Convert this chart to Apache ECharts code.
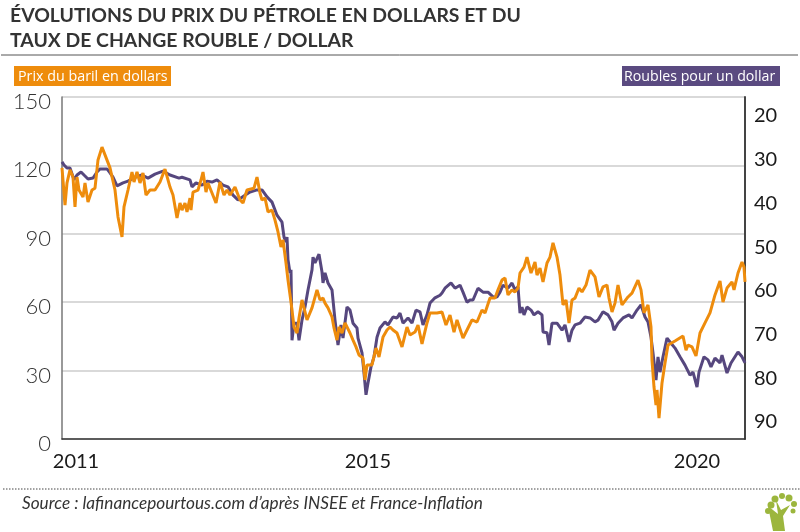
<!DOCTYPE html>
<html><head><meta charset="utf-8">
<script src="https://cdn.jsdelivr.net/npm/echarts@6/dist/echarts.min.js"></script>
<style>html,body{margin:0;padding:0;background:#fff}#c{width:800px;height:532px}</style>
</head><body><div id="c"></div>
<script>
const titleLines = ["ÉVOLUTIONS DU PRIX DU PÉTROLE EN DOLLARS ET DU", "TAUX DE CHANGE ROUBLE / DOLLAR"];
const oilName = "Prix du baril en dollars";
const rubName = "Roubles pour un dollar";
const sourceText = "Source : lafinancepourtous.com d’après INSEE et France-Inflation";
const leftTicks = [0, 30, 60, 90, 120, 150];
const rightTicks = [20, 30, 40, 50, 60, 70, 80, 90];
const xTickPeriods = [14, 306, 635];
const xTickLabels = ["2011", "2015", "2020"];
const oilPeriods = [0,3,5,8,11,13,15,17,21,23,26,30,33,36,40,43,48,53,56,60,62,66,70,72,75,78,81,84,88,93,98,103,108,111,115,118,120,123,125,128,129,131,136,139,141,144,146,150,154,158,162,165,168,173,178,181,185,192,195,198,200,203,206,210,213,216,219,221,224,226,229,232,235,237,240,242,245,250,255,258,261,263,266,270,272,275,277,280,283,288,291,294,297,301,303,305,310,314,317,321,325,328,331,335,340,345,348,353,356,360,365,368,375,380,384,388,392,395,401,406,410,415,420,423,428,433,436,440,443,446,450,453,456,458,462,465,469,473,475,478,481,485,488,491,495,498,501,504,507,510,513,517,520,524,528,533,537,541,545,547,550,553,556,560,566,570,576,579,582,586,589,590,592,594,595,597,600,603,606,613,621,624,626,630,634,638,643,648,653,658,661,665,667,670,672,676,680,682,683];
const oilPrice = [118.9,102.6,112.3,118,114.9,101.8,114.9,109.2,106.1,112.3,103.9,109.2,110,122.4,128,124.6,118.9,109.2,97.4,88.6,101.8,109.2,117.1,112.7,117.1,112.3,116.7,107,109.2,109.2,112.7,118.4,110.5,107,96.9,103.5,100.4,103.5,99.6,105.7,100.4,108.3,109.2,113.6,117.1,108.3,112.3,107.9,103.5,112.7,107,109.2,107,110.5,104.8,103.5,109.2,110,114.9,107.9,104.8,105.7,99.6,100.4,96,90.8,84.2,87.3,77.2,69.7,60.1,49.1,46.5,53.1,61,61,52.2,57.5,65.4,61,61.8,59.6,57.5,53.5,48.7,43.4,49.1,46.5,50.9,46.5,43.4,40.4,36.8,35.5,25.9,32.5,32.5,39.9,36,44.7,47.8,49.1,47.8,46.5,40.4,49.1,45.6,46.9,50,41.7,50.9,55.3,55.3,55.7,50,54.4,46.9,52.2,44.3,48.7,52.2,51.3,56.6,55.3,61.8,61.8,65.4,69.7,70.6,63.2,65.4,64.5,66.2,72.8,75.4,79.8,72.8,77.6,71.9,75,68.9,77.2,79.8,86,79.8,71.9,58.8,61,50.9,61,61.8,66.2,64.5,67.5,74.1,71.1,62.3,66.7,67.5,61.8,55.7,59.6,67.5,58.8,62.3,64,69.7,65.4,55.3,58.8,49.1,34.6,22.8,14.9,21.5,9.2,24.6,33.3,41.2,43,45.2,39,41.2,40.4,36.4,46.5,50.9,55.3,63.2,69.3,60.1,66.2,65.4,68.9,65.4,72.8,77.6,75.4,68.9];
const rubPeriods = [0,2,5,8,12,15,19,22,26,31,35,38,45,48,51,55,61,66,73,80,86,93,101,108,117,120,128,130,134,140,145,150,155,161,166,171,176,183,188,195,200,205,210,215,220,222,224,225,226,228,229,230,232,235,237,240,243,246,250,251,253,257,260,261,263,266,270,273,276,279,281,285,288,291,295,296,300,302,304,306,309,312,315,318,323,326,331,335,338,341,346,350,354,358,361,365,368,373,378,380,383,389,393,398,401,405,408,411,416,421,426,431,435,438,441,446,450,453,456,458,460,462,465,469,472,476,480,481,485,487,490,495,500,503,507,510,513,518,523,528,533,536,541,546,550,552,556,561,567,570,575,579,583,586,589,591,594,596,598,601,605,608,613,618,623,628,631,635,637,642,646,649,653,658,660,665,669,676,680,683];
const rubRate = [30.5,31.2,31.9,31.9,34.6,33.5,32.8,33.5,34.4,34.2,32.8,32.1,32.1,33,34,36,35.3,34.9,34,33.5,34.2,33.3,32.6,33.5,34.2,34,34.6,36.2,35.3,35.8,34.9,35.1,34.6,35.8,36.2,38.1,39.2,38.1,37.4,36.9,36.9,38.5,39.7,42.7,44.3,47.7,48.8,47.7,52.9,55.9,55.2,71.3,67.4,67.4,71.3,66.7,63.7,59.8,55.2,52.3,53.6,51.6,55.7,58.2,55.9,58.2,59.8,66.7,72.4,67.8,70.8,63.7,64.4,67.4,68.5,70.8,74.2,78.8,83.8,81.1,77.4,75.1,70.6,68.5,67.1,67.8,66,66.2,65.1,67.4,66.2,67.4,64.4,64.8,67.8,65.5,62.8,61.6,61,60.5,59.4,58.2,59.4,58.7,60.3,62.6,62.1,62.1,59.4,60.3,60.3,61.4,61.4,60.3,58.7,59.4,58.2,59.8,59.1,65.1,63.7,65.5,63.7,64.4,65.5,64.8,65.5,69.4,69.6,72.4,67.4,67.4,69,67.8,71.7,69,67.8,67.4,66,66.2,67.1,66.7,64.8,65.5,67.1,69,67.4,66.2,65.5,66.2,64.4,63.2,66,67.1,70.6,74.2,80.4,75.1,78.6,75.1,70.8,71.7,73.1,75.1,77,79.3,78.6,82,78.6,75.1,75.8,77.4,75.4,76.5,74.7,78.8,76.5,74,75.1,76.5];

const pair = (xs, ys) => xs.map((x, i) => [x, ys[i]]);
const chart = echarts.init(document.getElementById('c'), null, {renderer: 'canvas'});
const treeGreen = '#9cb63d';
const leaf = (cx, cy, r) => ({type: 'circle', shape: {cx, cy, r}, style: {fill: treeGreen}});
chart.setOption({
  animation: false,
  backgroundColor: '#fff',
  textStyle: {fontFamily: 'Lato'},
  grid: {left: 62, right: 55, top: 97, height: 342, containLabel: false},
  xAxis: {
    type: 'value', min: 0, max: 683, splitLine: {show: false},
    axisLine: {show: true, onZero: false, lineStyle: {color: '#333', width: 1.5}},
    axisTick: {show: false},
    axisLabel: {
      customValues: xTickPeriods, margin: 13, fontSize: 20, color: '#1a1a1a', fontFamily: 'Lato',
      hideOverlap: false, showMinLabel: true, showMaxLabel: true,
      formatter: v => xTickLabels[xTickPeriods.indexOf(v)] || ''
    }
  },
  yAxis: [{
    type: 'value', min: 0, max: 150, interval: 30,
    axisLine: {show: true, lineStyle: {color: '#777', width: 1.5}},
    axisTick: {show: false},
    splitLine: {show: true, lineStyle: {color: '#cccccc', width: 1.5}},
    axisLabel: {margin: 11, fontSize: 22, color: '#333', fontWeight: 300, fontFamily: 'Lato', verticalAlign: 'top', verticalAlignMinLabel: 'top', verticalAlignMaxLabel: 'top', lineHeight: 10, customValues: leftTicks}
  }, {
    type: 'value', min: 15.65, max: 93.9, inverse: true, position: 'right',
    axisLine: {show: true, onZero: false, lineStyle: {color: '#444', width: 2}},
    axisTick: {show: false}, splitLine: {show: false},
    axisLabel: {customValues: rightTicks, margin: 9, fontSize: 20, color: '#1a1a1a', fontFamily: 'Lato', hideOverlap: false}
  }],
  series: [{
    name: rubName, type: 'line', yAxisIndex: 1, showSymbol: false, symbol: 'none',
    data: pair(rubPeriods, rubRate), lineStyle: {color: '#56477e', width: 3}, z: 2
  }, {
    name: oilName, type: 'line', yAxisIndex: 0, showSymbol: false, symbol: 'none',
    data: pair(oilPeriods, oilPrice), lineStyle: {color: '#ee8c0c', width: 3}, z: 3
  }],
  graphic: [
    {type: 'text', left: 10, top: 6, style: {text: titleLines[0], font: 'bold 19.4px Lato', fill: '#333'}},
    {type: 'text', left: 10, top: 31, style: {text: titleLines[1], font: 'bold 19.4px Lato', fill: '#333'}},
    {type: 'line', shape: {x1: 1, y1: 55, x2: 798, y2: 55}, style: {stroke: '#555', lineWidth: 1}},
    {type: 'rect', shape: {x: 14, y: 66, width: 157, height: 20}, style: {fill: '#ee8c0c'}},
    {type: 'text', left: 18, top: 70, style: {text: oilName, font: '14.3px "Open Sans"', fill: '#fff'}},
    {type: 'rect', shape: {x: 622, y: 66, width: 158, height: 20}, style: {fill: '#5a4a80'}},
    {type: 'text', left: 624, top: 70, style: {text: rubName, font: '14.2px "Open Sans"', fill: '#fff'}},
    {type: 'line', shape: {x1: 3, y1: 489, x2: 800, y2: 489}, style: {stroke: '#444', lineWidth: 1, lineDash: [1.5, 1.5]}},
    {type: 'text', left: 22, top: 495, style: {text: sourceText, font: 'italic 17.2px Lato', fill: '#333'}},
    {type: 'polygon', shape: {points: [[773, 531], [785, 531], [783, 516], [790, 505], [781, 510], [776, 500], [778, 514], [768, 506]]}, style: {fill: treeGreen}},
    leaf(771, 505, 3.5), leaf(768, 511, 3), leaf(775, 499, 3.5), leaf(782, 496, 3), leaf(789, 498, 3.5), leaf(794, 504, 3), leaf(793, 511, 2.5)
  ]
});
</script></body></html>
